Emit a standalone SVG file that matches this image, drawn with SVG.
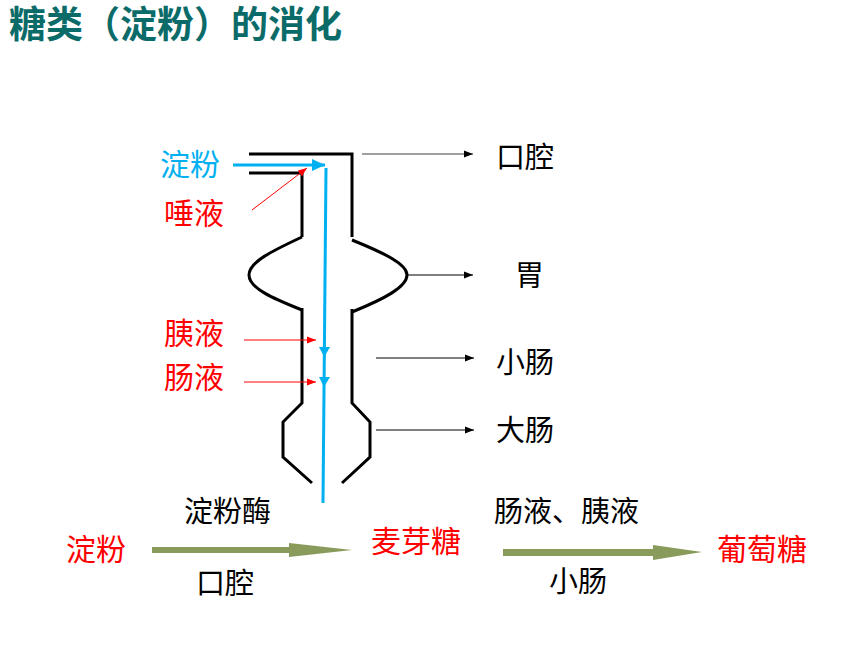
<svg xmlns="http://www.w3.org/2000/svg" width="860" height="645" viewBox="0 0 860 645">
<style>
text{font-family:"Noto Sans CJK SC","Noto Sans",sans-serif;font-size:29px}
.blk{fill:#000}
.red{fill:#FF0000}
.blu{fill:#00B0F0}
.title{fill:#0B6B69;font-size:37px;font-weight:bold}
.wall{fill:none;stroke:#000;stroke-width:3;stroke-linejoin:miter}
.thin{fill:none;stroke:#000;stroke-width:1}
.gray{fill:none;stroke:#808080;stroke-width:1.3}
.rl{fill:none;stroke:#FF0000;stroke-width:1}
.bl{fill:none;stroke:#00B0F0;stroke-width:3}
.fat{fill:#889B5A}
</style>
<defs>
<marker id="ak" markerUnits="userSpaceOnUse" markerWidth="10" markerHeight="8" refX="9" refY="4" orient="auto"><path d="M0,0.5 L9,4 L0,7.5Z" fill="#000"/></marker>
<marker id="ag" markerUnits="userSpaceOnUse" markerWidth="10" markerHeight="8" refX="9" refY="4" orient="auto"><path d="M0,0.5 L9,4 L0,7.5Z" fill="#000"/></marker>
<marker id="ar" markerUnits="userSpaceOnUse" markerWidth="10" markerHeight="8" refX="9" refY="4" orient="auto"><path d="M0,0.5 L9,4 L0,7.5Z" fill="#FF0000"/></marker>
<marker id="ab" markerUnits="userSpaceOnUse" markerWidth="14" markerHeight="12" refX="13" refY="6" orient="auto"><path d="M0,0 L13,6 L0,12Z" fill="#00B0F0"/></marker>
</defs>

<text class="title" x="9" y="38">糖类（淀粉）的消化</text>

<g id="tract">
<path class="wall" d="M249,154 L352,154 L352,237"/>
<path class="wall" d="M249,173 L302,173 L302,237"/>
<path class="wall" d="M302,237 C272,251 249,262 249,275 C249,288 272,298 302,310"/>
<path class="wall" d="M352,240 C384,253 407,264 407,275 C407,287 384,299 352,312"/>
<path class="wall" d="M302,308 L302,403 L283,422 L283,457 L312,483"/>
<path class="wall" d="M352,309 L352,403 L370,422 L370,457 L342,483"/>
</g>

<g id="food-path">
<path class="bl" d="M233,165 L325,165" marker-end="url(#ab)"/>
<path class="bl" d="M326,168 L323,503"/>
<path d="M319,347 L330,347 L324.3,357Z" fill="#00B0F0"/>
<path d="M319,377 L330,377 L324,387Z" fill="#00B0F0"/>
</g>

<g id="connectors">
<path class="gray" d="M362,154 L473,154" marker-end="url(#ag)"/>
<path class="thin" d="M407,275 L473,275" marker-end="url(#ak)"/>
<path class="thin" d="M376,358 L474,358" marker-end="url(#ak)"/>
<path class="thin" d="M376,430 L474,430" marker-end="url(#ak)"/>
<path class="rl" d="M252,210 L307,168" marker-end="url(#ar)"/>
<path class="rl" d="M244,340 L316,340" marker-end="url(#ar)"/>
<path class="rl" d="M244,382 L316,382" marker-end="url(#ar)"/>
</g>

<g id="labels-right">
<text class="blk" x="496" y="168">口腔</text>
<text class="blk" x="515" y="286">胃</text>
<text class="blk" x="496" y="373">小肠</text>
<text class="blk" x="496" y="441">大肠</text>
</g>

<g id="labels-left">
<text class="blu" x="160" y="175" style="font-size:30px">淀粉</text>
<text class="red" x="164" y="224" style="font-size:30px">唾液</text>
<text class="red" x="164" y="344" style="font-size:30px">胰液</text>
<text class="red" x="164" y="388" style="font-size:30px">肠液</text>
</g>

<g id="reaction">
<text class="red" x="66" y="560" style="font-size:30px">淀粉</text>
<text class="blk" x="184" y="522">淀粉酶</text>
<path class="fat" d="M152,547 L289,547 L289,543 L352,550 L289,557 L289,553 L152,553Z"/>
<text class="blk" x="196" y="594">口腔</text>
<text class="red" x="371" y="552" style="font-size:30px">麦芽糖</text>
<text class="blk" x="494" y="522">肠液、胰液</text>
<path class="fat" d="M503,549 L653,549 L653,545 L702,552 L653,560 L653,556 L503,556Z"/>
<text class="blk" x="549" y="592">小肠</text>
<text class="red" x="717" y="560" style="font-size:30px">葡萄糖</text>
</g>
</svg>
